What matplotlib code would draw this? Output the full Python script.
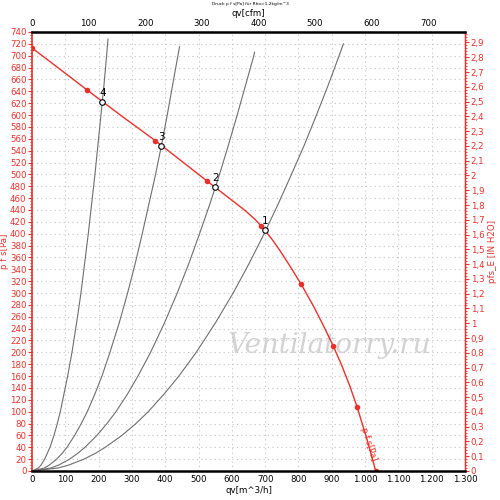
import numpy as np
import matplotlib
matplotlib.use('Agg')
import matplotlib.pyplot as plt
from matplotlib.ticker import MultipleLocator, FuncFormatter

# Kennlinie p f s [Pa] über qv [m^3/h]
fan_qv = [0, 80, 166, 270, 370, 450, 525, 594, 640, 670, 699, 720, 745, 775, 808,
          845, 875, 905, 930, 955, 976, 1005, 1032]
fan_p = [713, 679, 642, 598, 557, 522, 489, 459, 439, 424, 406, 391, 371, 345, 315,
         278, 245, 210, 178, 142, 108, 55, 0]

# Messpunkte auf der Kennlinie
dot_qv = [0, 166, 370, 525, 688, 808, 905, 976, 1032]
dot_p = [713, 642, 557, 489, 413, 315, 210, 108, 0]

# Betriebspunkte 1..4
op_qv = [699, 550, 388, 211]
op_p = [406, 478, 548, 622]
op_labels = ['1', '2', '3', '4']

# Anlagenkennlinien
sys_p = [0, 5, 10, 20, 30, 40, 60, 80, 100, 130, 160, 200, 250, 300, 350, 400,
         450, 500, 550, 600, 650, 700]
sys1_qv = [0, 78, 110, 156, 191, 220, 270, 312, 349, 397, 441, 493, 551, 604, 652,
           697, 739, 779, 818, 854, 889, 922]
sys2_qv = [0, 56, 80, 113, 138, 159, 195, 225, 252, 287, 318, 356, 398, 436, 471,
           503, 534, 563, 590, 616, 641, 666]
sys3_qv = [0, 37, 52, 74, 91, 105, 128, 148, 166, 189, 210, 234, 262, 287, 310,
           331, 351, 371, 389, 406, 422, 438]
sys4_qv = [0, 19, 27, 38, 46, 54, 66, 76, 85, 96, 107, 120, 134, 147, 158,
           169, 179, 189, 198, 207, 216, 224]
sys_end_qv = [935, 668, 443, 228]
sys_end_p = [720, 706, 715, 728]

RED = '#e8312b'
CFM = 0.588578
INH2O = 249.089

fig = plt.figure(figsize=(5, 5), dpi=100)
ax = fig.add_axes([0.064, 0.058, 0.866, 0.878])

ax.set_xlim(0, 1300)
ax.set_ylim(0, 740)

# Gitter
ax.xaxis.set_major_locator(MultipleLocator(100))
ax.yaxis.set_major_locator(MultipleLocator(20))
ax.yaxis.set_minor_locator(MultipleLocator(5))
ax.grid(True, color='#c4c4c4', linestyle=(0, (1, 3)), linewidth=0.8)
ax.set_axisbelow(True)

# Anlagenkennlinien
for q, pe_q, pe_p in zip([sys1_qv, sys2_qv, sys3_qv, sys4_qv], sys_end_qv, sys_end_p):
    ax.plot(q + [pe_q], sys_p + [pe_p], color='#6e6e6e', lw=0.8)

# Ventilatorkennlinie
ax.plot(fan_qv, fan_p, color=RED, lw=1.0)
ax.plot(dot_qv, dot_p, 'o', color=RED, ms=3, mec=RED)

# Betriebspunkte
ax.plot(op_qv, op_p, 'o', mfc='white', mec='black', ms=4, mew=0.8)
for q, p, lab in zip(op_qv, op_p, op_labels):
    ax.annotate(lab, (q, p), xytext=(0, 3), textcoords='offset points',
                ha='center', va='bottom', fontsize=7.5)

ax.text(1012, 45, 'p f s[Pa]', color=RED, fontsize=6, rotation=-72,
        ha='center', va='center')

# Wasserzeichen
ax.text(894, 212, 'Ventilatorry.ru', color='#d3d3d3', fontsize=20,
        family='DejaVu Serif', style='italic', ha='center', va='center', zorder=0)

# Achsen
fmt_thousand = FuncFormatter(lambda v, pos: f'{int(v):,}'.replace(',', '.'))
ax.xaxis.set_major_formatter(fmt_thousand)
ax.tick_params(axis='x', labelsize=6.2, length=0, pad=3)
ax.tick_params(axis='y', which='major', colors=RED, labelsize=6.2, length=3, pad=1)
ax.tick_params(axis='y', which='minor', colors=RED, length=1.5)

for s in ['top', 'bottom']:
    ax.spines[s].set_linewidth(1.8)
ax.spines['left'].set_color(RED)
ax.spines['left'].set_linewidth(1.2)
ax.spines['right'].set_color(RED)
ax.spines['right'].set_linewidth(1.0)

ax.set_xlabel('qv[m^3/h]', fontsize=6.2, labelpad=1)
ax.set_ylabel('p f s[Pa]', fontsize=6.2, color=RED, labelpad=1)

top = ax.secondary_xaxis('top', functions=(lambda x: x * CFM, lambda x: x / CFM))
top.xaxis.set_major_locator(MultipleLocator(100))
top.tick_params(labelsize=6.2, length=0, pad=3)
top.set_xlabel('qv[cfm]', fontsize=6.2, labelpad=2)

right = ax.secondary_yaxis('right', functions=(lambda p: p / INH2O, lambda v: v * INH2O))
right.yaxis.set_major_locator(MultipleLocator(0.1))
right.yaxis.set_minor_locator(MultipleLocator(0.02))
right.yaxis.set_major_formatter(FuncFormatter(
    lambda v, pos: f'{v:.1f}'.rstrip('0').rstrip('.').replace('.', ',') if abs(v) > 1e-9 else '0'))
right.tick_params(which='major', colors=RED, labelsize=6.2, length=3, pad=1)
right.tick_params(which='minor', colors=RED, length=1.5)
right.spines['right'].set_color(RED)
right.set_ylabel('pfs_E [IN H2O]', fontsize=6.2, color=RED, labelpad=3)

fig.text(0.5, 0.997, 'Druck p f s[Pa] für Rho=1,2kg/m^3', fontsize=3.2,
         ha='center', va='top')

fig.savefig('out.png', dpi=100)
